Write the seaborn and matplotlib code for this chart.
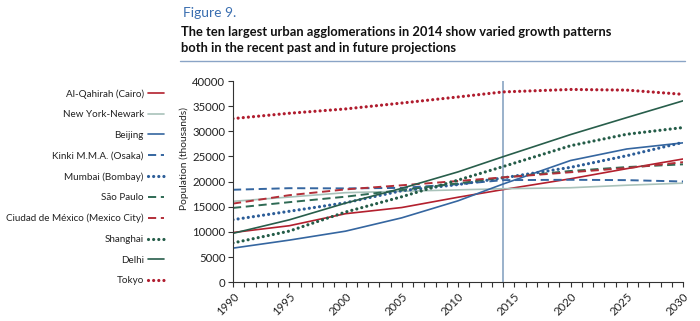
import numpy as np
import pandas as pd
import matplotlib
matplotlib.use("Agg")
import matplotlib.pyplot as plt
import seaborn as sns
from matplotlib.ticker import MultipleLocator
from matplotlib.lines import Line2D

years = [1990, 1995, 2000, 2005, 2010, 2014, 2020, 2025, 2030]

cairo     = [9890, 11240, 13630, 14860, 16900, 18420, 20570, 22580, 24500]
new_york  = [16090, 16940, 17810, 18090, 18370, 18590, 18790, 19290, 19700]
beijing   = [6790, 8380, 10160, 12810, 16190, 19520, 24200, 26490, 27710]
osaka     = [18390, 18700, 18660, 18760, 19490, 20300, 20370, 20300, 20030]
mumbai    = [12440, 14110, 15800, 18200, 19420, 20740, 22840, 25150, 27800]
sao_paulo = [14780, 15920, 17010, 18330, 19660, 20830, 22120, 22900, 23440]
mexico    = [15640, 17310, 18460, 19280, 20130, 20840, 21870, 22700, 23870]
shanghai  = [7820, 10170, 13960, 17000, 20310, 22990, 27140, 29420, 30750]
delhi     = [9730, 12410, 15730, 18670, 21940, 24950, 29350, 32730, 36060]
tokyo     = [32530, 33590, 34450, 35620, 36830, 37830, 38320, 38190, 37350]

cities = ["Al-Qahirah (Cairo)", "New York-Newark", "Beijing", "Kinki M.M.A. (Osaka)",
          "Mumbai (Bombay)", "São Paulo", "Ciudad de México (Mexico City)",
          "Shanghai", "Delhi", "Tokyo"]
values = [cairo, new_york, beijing, osaka, mumbai, sao_paulo, mexico, shanghai, delhi, tokyo]

x_ticks = [1990, 1995, 2000, 2005, 2010, 2015, 2020, 2025, 2030]
y_ticks = [0, 5000, 10000, 15000, 20000, 25000, 30000, 35000, 40000]

title_fig = "Figure 9."
title_main = ("The ten largest urban agglomerations in 2014 show varied growth patterns\n"
              "both in the recent past and in future projections")
y_label = "Population (thousands)"

RED = "#b3202e"
GREEN = "#245c48"
BLUE = "#3566a0"
styles = {
    "Al-Qahirah (Cairo)": dict(color=RED, kind="solid"),
    "New York-Newark": dict(color="#a9c2ba", kind="solid"),
    "Beijing": dict(color=BLUE, kind="solid"),
    "Kinki M.M.A. (Osaka)": dict(color=BLUE, kind="dashed"),
    "Mumbai (Bombay)": dict(color="#2c5d98", kind="dotted"),
    "São Paulo": dict(color="#2e6a54", kind="dashed"),
    "Ciudad de México (Mexico City)": dict(color="#b32e38", kind="dashed"),
    "Shanghai": dict(color=GREEN, kind="dotted"),
    "Delhi": dict(color="#285e4b", kind="solid"),
    "Tokyo": dict(color="#b01c2e", kind="dotted"),
}

sns.set_theme(style="ticks")
plt.rcParams["font.family"] = ["Lato", "DejaVu Sans"]

fig = plt.figure(figsize=(7.0, 3.21), dpi=100)
ax = fig.add_axes([233/700, 1 - 282.3/321, 450/700, 201.3/321])

handles = []
for name, vals in zip(cities, values):
    st = styles[name]
    df = pd.DataFrame({"year": years, "pop": vals})
    if st["kind"] == "solid":
        kw = dict(linewidth=1.2, linestyle="-")
    elif st["kind"] == "dashed":
        kw = dict(linewidth=1.4, dashes=(4.2, 2.4))
    else:
        kw = dict(linewidth=2.3, dashes=(0.01, 1.6), dash_capstyle="round")
    sns.lineplot(data=df, x="year", y="pop", ax=ax, color=st["color"], **kw)
    handles.append(Line2D([], [], color=st["color"], **kw))

ax.axvline(2014, color="#7f9dbd", linewidth=1.1, zorder=0)

ax.set_xlim(1990, 2030)
ax.set_ylim(0, 40000)
ax.set_xticks(x_ticks)
ax.set_xticklabels([str(t) for t in x_ticks], rotation=45, ha="right", rotation_mode="anchor",
                   fontsize=8.2, color="#222222")
ax.xaxis.set_minor_locator(MultipleLocator(1))
ax.set_yticks(y_ticks)
ax.set_yticklabels([str(t) for t in y_ticks], fontsize=8.2, color="#222222")
ax.tick_params(axis="both", which="both", length=3.5, width=0.8, color="#333333", pad=2)
ax.tick_params(axis="x", which="major", pad=3)
ax.set_xlabel("")
ax.set_ylabel(y_label, fontsize=7.4, color="#222222")
ax.yaxis.set_label_coords(-0.098, 0.617)
for s in ["top", "right"]:
    ax.spines[s].set_visible(False)
for s in ["left", "bottom"]:
    ax.spines[s].set_color("#333333")
    ax.spines[s].set_linewidth(0.8)

leg = fig.legend(handles, cities, loc="upper right", bbox_to_anchor=(164/700, 1 - 89/321),
                 frameon=False, markerfirst=False, fontsize=7.1, handlelength=1.6,
                 handletextpad=0.45, labelspacing=1.18, borderaxespad=0, borderpad=0)
for t in leg.get_texts():
    t.set_color("#222222")

fig.text(183/700, 1 - 13/321, title_fig, fontsize=10, color="#3a6eb0", va="center", ha="left")
fig.text(181/700, 1 - 40/321, title_main, fontsize=9.3, fontweight="bold", color="#111111",
         va="center", ha="left", linespacing=1.45)
fig.add_artist(Line2D([180/700, 685/700], [1 - 61/321, 1 - 61/321], color="#8aa4c6",
                      linewidth=1.0, transform=fig.transFigure))

fig.savefig("out.png", dpi=100)
